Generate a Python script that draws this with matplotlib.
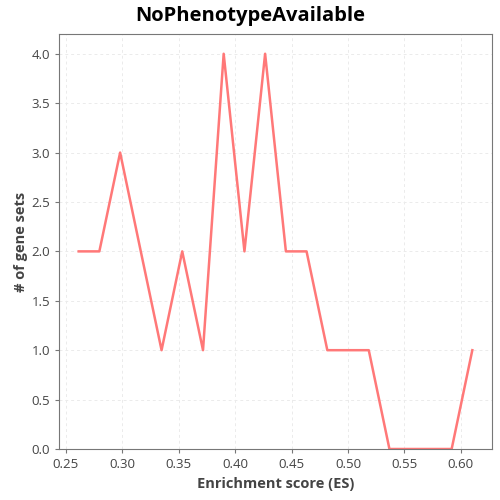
import matplotlib
matplotlib.use("Agg")
import matplotlib.pyplot as plt

plt.rcParams['font.family'] = ['Open Sans', 'DejaVu Sans']

# enrichment score bin centres and counts
es = [0.2615, 0.2798, 0.2982, 0.3165, 0.3349, 0.3532, 0.3716, 0.3899, 0.4083, 0.4266,
      0.4450, 0.4633, 0.4817, 0.5000, 0.5184, 0.5367, 0.5551, 0.5734, 0.5918, 0.6101]
counts = [2, 2, 3, 2, 1, 2, 1, 4, 2, 4, 2, 2, 1, 1, 1, 0, 0, 0, 0, 1]

fig = plt.figure(figsize=(5, 5), dpi=100)
ax = fig.add_axes([0.118, 0.102, 0.866, 0.830])
ax.plot(es, counts, color='#ff7878', lw=1.8)
ax.set_ylim(0, 4.2)
ax.set_yticks([0, 0.5, 1, 1.5, 2, 2.5, 3, 3.5, 4])
ax.set_yticklabels(['0.0', '0.5', '1.0', '1.5', '2.0', '2.5', '3.0', '3.5', '4.0'])
ax.set_xticks([0.25, 0.3, 0.35, 0.4, 0.45, 0.5, 0.55, 0.6])
ax.set_xticklabels(['0.25', '0.30', '0.35', '0.40', '0.45', '0.50', '0.55', '0.60'])
ax.grid(True, color='#ebebeb', linestyle=(0, (3, 3)), lw=0.7)
ax.set_axisbelow(True)
for s in ax.spines.values():
    s.set_color('#777777')
ax.tick_params(colors='#444444', labelsize=9.5, length=3, color='#777777')
fig.suptitle('NoPhenotypeAvailable', x=0.5, y=0.948, va='bottom',
             fontsize=14.5, fontweight='bold')
ax.set_xlabel('Enrichment score (ES)', fontsize=10.5, fontweight='bold', color='#444444')
ax.set_ylabel('# of gene sets', fontsize=10.5, fontweight='bold', color='#444444', labelpad=2)

fig.savefig('out.png', dpi=100)
